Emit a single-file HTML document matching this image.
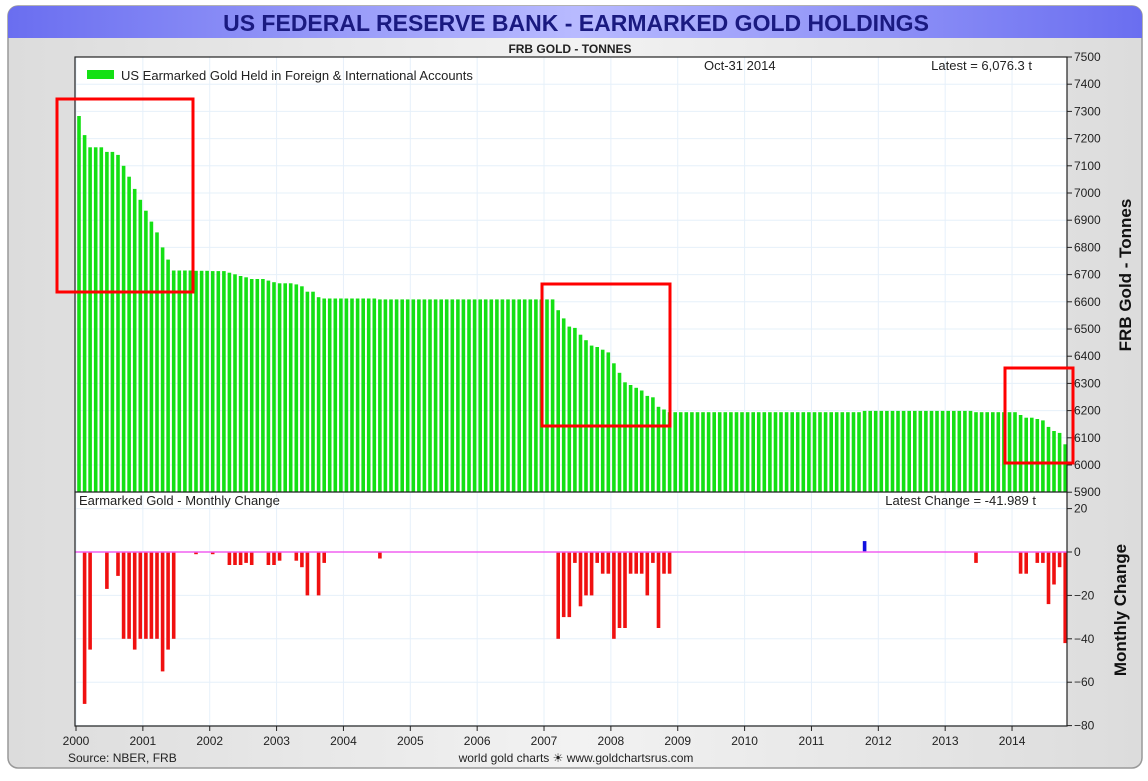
<!DOCTYPE html><html><head><meta charset="utf-8"><style>
body{margin:0;background:#fff;width:1148px;height:776px;overflow:hidden;font-family:"Liberation Sans",sans-serif}
</style></head><body>
<svg id="s" width="1148" height="776" xmlns="http://www.w3.org/2000/svg" font-family="Liberation Sans, sans-serif">
<defs><linearGradient id="tg" x1="0" x2="1"><stop offset="0" stop-color="#6a6ef0"/><stop offset="0.5" stop-color="#b8baff"/><stop offset="1" stop-color="#6a6ef0"/></linearGradient>
<linearGradient id="bg" x1="0" x2="1"><stop offset="0" stop-color="#dcdcdc"/><stop offset="0.5" stop-color="#f2f2f2"/><stop offset="1" stop-color="#dcdcdc"/></linearGradient></defs>
<rect x="8" y="6" width="1134" height="762" rx="10" fill="url(#bg)" stroke="#999" stroke-width="1.5"/>
<path d="M8 38 V16 a10 10 0 0 1 10 -10 H1132 a10 10 0 0 1 10 10 V38 Z" fill="url(#tg)"/>
<text x="576" y="31" text-anchor="middle" font-size="23" font-weight="bold" fill="#1a1a80">US FEDERAL RESERVE BANK - EARMARKED GOLD HOLDINGS</text>
<text x="570" y="53" text-anchor="middle" font-size="12" font-weight="bold" fill="#222">FRB GOLD - TONNES</text>
<rect x="75" y="57" width="992" height="669" fill="#fff"/>
<g id="g"></g>
<rect x="75" y="57" width="992" height="669" fill="none" stroke="#222" stroke-width="1.2"/>
<line x1="75" y1="492" x2="1067" y2="492" stroke="#222" stroke-width="1.2"/>
<rect x="87" y="70" width="27" height="9" fill="#14e014"/>
<text x="121" y="80" font-size="13" fill="#222">US Earmarked Gold Held in Foreign &amp; International Accounts</text>
<text x="704" y="70" font-size="13" fill="#222">Oct-31  2014</text>
<text x="1032" y="70" text-anchor="end" font-size="13" fill="#222">Latest = 6,076.3 t</text>
<text x="79" y="505" font-size="13" fill="#222">Earmarked Gold - Monthly Change</text>
<text x="1036" y="505" text-anchor="end" font-size="13" fill="#222">Latest Change = -41.989 t</text>
<text transform="translate(1131,275) rotate(-90)" text-anchor="middle" font-size="17" font-weight="bold" fill="#111">FRB Gold - Tonnes</text>
<text transform="translate(1126,610) rotate(-90)" text-anchor="middle" font-size="17" font-weight="bold" fill="#111">Monthly Change</text>
<text x="68" y="762" font-size="12" fill="#222">Source: NBER, FRB</text>
<text x="576" y="762" text-anchor="middle" font-size="12" fill="#222">world gold charts ☀ www.goldchartsrus.com</text>
<g fill="none" stroke="#f00" stroke-width="3">
<rect x="57" y="99" width="136" height="193"/><rect x="542" y="284" width="128" height="142"/><rect x="1005" y="368" width="68" height="95"/></g>
</svg>
<script>
var g=document.getElementById('g'),h='';
var X0=76,YR=66.86,MW=YR/12;
function ty(v){return 57+(7500-v)*0.272}
function by(v){return 552-v*2.17}
for(var v=5900;v<=7500;v+=100){var y=ty(v);h+='<line x1="75" y1="'+y+'" x2="1067" y2="'+y+'" stroke="#e6f0fa"/>';h+='<line x1="1067" y1="'+y+'" x2="1072" y2="'+y+'" stroke="#222"/><text x="1074" y="'+(y+4)+'" font-size="12" fill="#222">'+v+'</text>'}
for(var v=-80;v<=20;v+=20){var y=by(v);h+='<line x1="75" y1="'+y+'" x2="1067" y2="'+y+'" stroke="#e6f0fa"/>';h+='<line x1="1067" y1="'+y+'" x2="1072" y2="'+y+'" stroke="#222"/><text x="1074" y="'+(y+4)+'" font-size="12" fill="#222">'+(v<0?'\u2212'+(-v):v)+'</text>'}
for(var yr=2000;yr<=2014;yr++){var x=X0+(yr-2000)*YR;h+='<line x1="'+x+'" y1="57" x2="'+x+'" y2="726" stroke="#e6f0fa"/><line x1="'+x+'" y1="726" x2="'+x+'" y2="731" stroke="#222"/><text x="'+x+'" y="745" text-anchor="middle" font-size="12" fill="#222">'+yr+'</text>'}
var c={1:-70,2:-45,5:-17,7:-11,8:-40,9:-40,10:-45,11:-40,12:-40,13:-40,14:-40,15:-55,16:-45,17:-40,21:-1,24:-1,27:-6,28:-6,29:-6,30:-5,31:-6,34:-6,35:-6,36:-4,39:-4,40:-7,41:-20,43:-20,44:-5,54:-3,
86:-40,87:-30,88:-30,89:-5,90:-25,91:-20,92:-20,93:-5,94:-10,95:-10,96:-40,97:-35,98:-35,99:-10,100:-10,101:-10,102:-20,103:-5,104:-35,105:-10,106:-10,141:5,161:-5,169:-10,170:-10,172:-5,173:-5,174:-24,175:-15,176:-7,177:-42};
var L=[],lv=6076;L[177]=lv;for(var i=177;i>0;i--){lv-= (c[i]||0);L[i-1]=lv}
for(var i=0;i<=177;i++){var x=X0+i*MW+1.2;var y=ty(L[i]);h+='<rect x="'+x.toFixed(1)+'" y="'+y.toFixed(1)+'" width="3.6" height="'+(492-y).toFixed(1)+'" fill="#14e014"/>';
var d=c[i];if(d){var y1=by(Math.max(d,0)),y2=by(Math.min(d,0));h+='<rect x="'+x.toFixed(1)+'" y="'+y1.toFixed(1)+'" width="3.6" height="'+Math.max(1.5,y2-y1).toFixed(1)+'" fill="'+(d>0?'#1010e0':'#f01010')+'"/>'}}
h+='<line x1="75" y1="552" x2="1067" y2="552" stroke="#f060f0" stroke-width="1.5"/>';
g.innerHTML=h;
</script>
</body></html>
